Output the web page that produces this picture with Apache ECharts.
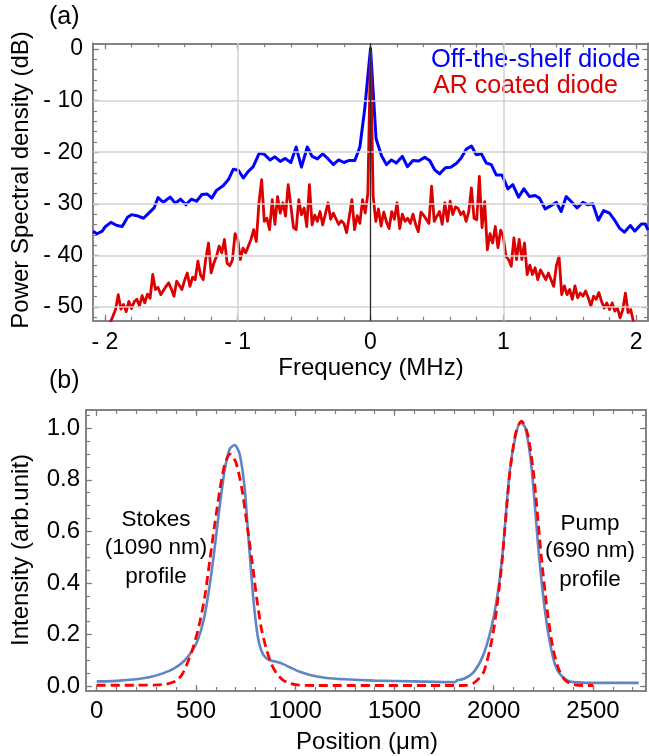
<!DOCTYPE html>
<html>
<head>
<meta charset="utf-8">
<script src="https://cdn.jsdelivr.net/npm/echarts@6/dist/echarts.min.js"></script>
<style>html,body{margin:0;padding:0;background:#fff}#c{width:649px;height:756px}</style>
</head>
<body>
<div id="c"></div>
<script>
// ---------------- DATA ----------------
// (a) Off-the-shelf diode: [frequency MHz, dB]
const offShelf = [[-2.09,-35.3],[-2.06,-35.8],[-2.02,-35.3],[-2.0,-34.5],[-1.955,-33.6],[-1.91,-34.2],[-1.87,-34.4],[-1.83,-32.6],[-1.80,-32.1],[-1.76,-32.3],[-1.71,-32.8],[-1.67,-31.8],[-1.63,-30.8],[-1.60,-28.8],[-1.56,-29.7],[-1.51,-28.7],[-1.47,-29.9],[-1.43,-29.1],[-1.39,-30.2],[-1.35,-29.1],[-1.31,-29.5],[-1.27,-28.2],[-1.23,-28.1],[-1.195,-28.9],[-1.16,-27.4],[-1.11,-26.5],[-1.07,-25.3],[-1.033,-23.3],[-0.995,-23.5],[-0.958,-25.0],[-0.92,-23.7],[-0.883,-22.8],[-0.838,-20.2],[-0.80,-20.4],[-0.757,-21.5],[-0.72,-20.9],[-0.68,-21.8],[-0.644,-21.2],[-0.60,-22.0],[-0.56,-19.0],[-0.52,-22.9],[-0.476,-19.0],[-0.44,-20.8],[-0.40,-21.3],[-0.36,-20.3],[-0.319,-21.3],[-0.28,-22.4],[-0.24,-21.5],[-0.20,-22.0],[-0.16,-21.6],[-0.118,-21.6],[-0.08,-19.0],[-0.043,-11.5],[0,0.1],[0.042,-17.4],[0.083,-20.7],[0.12,-22.4],[0.158,-21.5],[0.195,-22.1],[0.24,-20.8],[0.278,-22.8],[0.32,-21.6],[0.363,-21.7],[0.408,-21.0],[0.446,-21.6],[0.483,-23.4],[0.52,-24.2],[0.564,-23.0],[0.604,-22.9],[0.646,-22.2],[0.684,-21.1],[0.722,-19.4],[0.76,-18.8],[0.797,-20.5],[0.835,-20.3],[0.872,-22.1],[0.91,-22.4],[0.947,-24.4],[0.99,-24.4],[1.035,-27.1],[1.072,-26.3],[1.115,-28.7],[1.155,-27.1],[1.198,-28.6],[1.24,-28.4],[1.273,-28.9],[1.316,-31.0],[1.356,-30.4],[1.40,-29.7],[1.436,-31.5],[1.474,-28.6],[1.51,-29.5],[1.556,-30.8],[1.60,-29.7],[1.636,-30.2],[1.674,-30.0],[1.716,-33.2],[1.756,-31.3],[1.80,-31.8],[1.837,-33.1],[1.875,-34.7],[1.912,-35.5],[1.957,-34.2],[1.99,-35.3],[2.04,-33.9],[2.07,-33.9],[2.09,-35.1]];

// (a) AR coated diode: sampled every 0.02 MHz from -1.96 MHz
const arStart = -1.96, arStep = 0.02;
const arCoated = [-53.0,-51.8,-50.5,-47.6,-50.4,-49.5,-50.9,-48.9,-50.3,-49.0,-48.5,-49.8,-47.8,-49.2,-47.5,-48.3,-43.7,-46.6,-46.2,-47.6,
-46.8,-46.0,-45.3,-46.5,-47.9,-45.0,-45.8,-46.6,-44.8,-43.4,-46.0,-44.2,-44.7,-41.1,-43.8,-44.7,-40.5,-37.6,-43.4,-41.5,
-40.2,-38.2,-39.5,-36.9,-41.5,-42.0,-40.9,-35.8,-36.9,-40.8,-38.6,-39.5,-38.2,-36.9,-35.0,-37.3,-29.8,-25.3,-33.4,-32.8,
-35.0,-29.2,-34.0,-28.6,-31.8,-29.8,-32.4,-26.3,-30.4,-34.6,-35.0,-29.2,-32.1,-30.8,-34.4,-26.3,-34.1,-32.2,-33.4,-31.5,
-34.1,-32.0,-29.8,-33.0,-31.8,-32.9,-34.0,-33.3,-33.8,-35.6,-32.5,-29.2,-35.0,-32.3,-33.8,-29.2,-31.8,-28.0,
-0.5,
-28.5,-33.4,-31.0,-34.3,-31.6,-33.5,-34.8,-31.5,-33.0,-29.8,-34.8,-32.0,-33.4,-32.8,-33.8,-32.0,-34.0,-35.4,-31.6,-32.2,
-33.0,-33.8,-26.6,-33.4,-32.4,-31.5,-34.0,-29.8,-33.4,-29.5,-32.1,-30.6,-30.9,-32.1,-31.5,-33.4,-31.5,-26.9,-32.8,-33.1,
-24.7,-34.6,-29.6,-38.9,-35.8,-37.6,-34.4,-38.5,-35.1,-36.3,-40.2,-40.8,-42.1,-36.6,-40.8,-36.9,-40.8,-37.6,-43.7,-41.9,
-43.7,-42.4,-44.7,-42.8,-43.7,-44.7,-43.4,-44.7,-46.0,-42.0,-40.2,-47.6,-45.9,-47.6,-46.6,-48.5,-45.9,-48.2,-47.3,-47.9,
-46.9,-48.2,-49.8,-47.9,-48.5,-47.2,-48.9,-50.2,-49.2,-50.5,-49.2,-50.8,-50.2,-52.1,-50.5,-47.3,-51.1,-50.5,-52.8];

// (b) measured intensity profile: [position um, intensity]
const measured = [[0,0.018],[100,0.02],[200,0.026],[270,0.035],[330,0.048],[390,0.068],[440,0.097],[480,0.135],[510,0.18],[540,0.26],[565,0.37],[590,0.51],[620,0.70],[645,0.84],[670,0.92],[695,0.935],[720,0.90],[745,0.77],[760,0.62],[775,0.47],[790,0.33],[806,0.22],[820,0.16],[840,0.12],[870,0.10],[900,0.095],[940,0.085],[980,0.07],[1020,0.056],[1080,0.042],[1150,0.032],[1250,0.026],[1400,0.021],[1600,0.018],[1805,0.015],[1815,0.022],[1850,0.028],[1900,0.055],[1950,0.125],[2000,0.27],[2040,0.48],[2080,0.83],[2110,0.97],[2135,1.025],[2160,1.0],[2190,0.85],[2230,0.49],[2260,0.28],[2285,0.16],[2310,0.08],[2335,0.045],[2370,0.022],[2400,0.015],[2500,0.012],[2730,0.012]];
// (b) Gaussian fit: [position um, intensity]
const fitted = [[0,0.003],[200,0.003],[300,0.004],[350,0.007],[400,0.02],[430,0.045],[460,0.095],[490,0.16],[520,0.25],[545,0.35],[570,0.49],[595,0.63],[620,0.76],[645,0.86],[671,0.90],[700,0.87],[730,0.77],[760,0.61],[790,0.44],[806,0.34],[830,0.22],[856,0.14],[880,0.085],[907,0.048],[940,0.022],[975,0.01],[1010,0.004],[1100,0.002],[1850,0.002],[1900,0.012],[1950,0.055],[2000,0.22],[2040,0.47],[2080,0.82],[2110,0.98],[2140,1.028],[2170,0.98],[2200,0.83],[2240,0.5],[2270,0.29],[2300,0.14],[2330,0.06],[2360,0.022],[2400,0.006],[2450,0.002],[2500,0.002]];

// tick labels
const aXLabels = [-2,-1,0,1,2];
const aYLabels = [0,-10,-20,-30,-40,-50];
const bXLabels = [0,500,1000,1500,2000,2500];
const bYLabels = [0,0.2,0.4,0.6,0.8,1.0];
const legendA = ['Off-the-shelf diode','AR coated diode'];

// ---------------- CHART ----------------
const FONT = '"Liberation Sans", Arial, Helvetica, sans-serif';
const FRAME = '#7d7d7d';
const r = v => Math.round(v*1000)/1000;
function range(a,b,s){const o=[];for(let v=a;v<=b+1e-9;v+=s)o.push(r(v));return o;}

const arData = arCoated.map((y,i)=>[r(arStart+i*arStep), y]);

const A = {xmin:-2.09,xmax:2.09,ymin:-52.65,ymax:1.1};
const B = {xmin:-54,xmax:2767,ymin:-0.0194,ymax:1.071};

function ax(grid,pos,min,max,ticks,len,label){
  const o = {type:'value',gridIndex:grid,position:pos,min,max,
    axisLine:{show:true,onZero:false,lineStyle:{color:FRAME,width:1.5}},
    axisTick:{show:true,inside:true,length:len,customValues:ticks,lineStyle:{color:FRAME,width:1.2}},
    axisLabel:{show:false},splitLine:{show:false},splitArea:{show:false}};
  if(label){o.axisLabel=Object.assign({show:true,color:'#000',fontFamily:FONT},label);}
  return o;
}
const negFmt = v => v<0 ? '- '+Math.abs(v) : String(v);

const xAxis = [
  ax(0,'bottom',A.xmin,A.xmax,aXLabels,6,{customValues:aXLabels,formatter:negFmt,fontSize:23,margin:10}),
  ax(0,'bottom',A.xmin,A.xmax,range(-2,2,0.2),4),
  ax(0,'top',A.xmin,A.xmax,aXLabels,6),
  ax(0,'top',A.xmin,A.xmax,range(-2,2,0.2),4),
  ax(1,'bottom',B.xmin,B.xmax,bXLabels,6,{customValues:bXLabels,formatter:v=>String(v),fontSize:24,margin:8}),
  ax(1,'bottom',B.xmin,B.xmax,range(0,2700,100),4),
  ax(1,'top',B.xmin,B.xmax,bXLabels,6),
  ax(1,'top',B.xmin,B.xmax,range(0,2700,100),4)
];
const yAxis = [
  ax(0,'left',A.ymin,A.ymax,aYLabels,6,{customValues:aYLabels,formatter:negFmt,fontSize:23,margin:10}),
  ax(0,'left',A.ymin,A.ymax,range(-52,0,2),4),
  ax(0,'right',A.ymin,A.ymax,aYLabels,6),
  ax(0,'right',A.ymin,A.ymax,range(-52,0,2),4),
  ax(1,'left',B.ymin,B.ymax,bYLabels,6,{customValues:bYLabels,formatter:v=>v.toFixed(1),fontSize:24,margin:6}),
  ax(1,'left',B.ymin,B.ymax,range(0,1.05,0.05),4),
  ax(1,'right',B.ymin,B.ymax,bYLabels,6),
  ax(1,'right',B.ymin,B.ymax,range(0,1.05,0.05),4)
];

const gridLight = {color:'#d2d2d2',width:1.5,type:'solid'};
const option = {
  animation:false,
  grid:[
    {left:93,right:1,top:43.3,bottom:756-320.7,containLabel:false},
    {left:86,right:3,top:410,bottom:65,containLabel:false}
  ],
  xAxis, yAxis,
  series:[
    {type:'line',xAxisIndex:0,yAxisIndex:0,data:[],z:1,silent:true,
     markLine:{silent:true,symbol:['none','none'],label:{show:false},animation:false,lineStyle:gridLight,
       data:[{xAxis:-1},{xAxis:1},{yAxis:-10},{yAxis:-20},{yAxis:-30},{yAxis:-40},{yAxis:-50},
             {xAxis:0,lineStyle:{color:'#2a2a2a',width:1.3,type:'solid'}}]}},
    {type:'line',name:'off',xAxisIndex:0,yAxisIndex:0,data:offShelf,showSymbol:false,z:3,
     lineStyle:{color:'#0000ff',width:3,join:'round'}},
    {type:'line',name:'ar',xAxisIndex:0,yAxisIndex:0,data:arData,showSymbol:false,z:4,
     lineStyle:{color:'#dd0000',width:2.8,join:'round'}},
    {type:'line',name:'meas',xAxisIndex:4,yAxisIndex:4,data:measured,showSymbol:false,z:3,smooth:0.25,
     lineStyle:{color:'#5f86c4',width:2.6}},
    {type:'line',name:'fit',xAxisIndex:4,yAxisIndex:4,data:fitted,showSymbol:false,z:4,smooth:0.25,
     lineStyle:{color:'#ff0000',width:2.8,type:[9,5]}}
  ],
  graphic:[
    {type:'text',left:49,top:5,style:{text:'(a)',font:'25px '+FONT,fill:'#000'}},
    {type:'text',left:49,top:369,style:{text:'(b)',font:'25px '+FONT,fill:'#000'}},
    {type:'text',left:431,top:47,style:{text:legendA[0],font:'25.5px '+FONT,fill:'#0000ff'}},
    {type:'text',left:433,top:74,style:{text:legendA[1],font:'25px '+FONT,fill:'#dd0000'}},
    {type:'text',x:371,y:368,style:{text:'Frequency (MHz)',font:'24px '+FONT,fill:'#000',align:'center',verticalAlign:'middle'}},
    {type:'text',x:367,y:742,style:{text:'Position (μm)',font:'24px '+FONT,fill:'#000',align:'center',verticalAlign:'middle'}},
    {type:'text',x:21,y:180,rotation:Math.PI/2,style:{text:'Power Spectral density (dB)',font:'24px '+FONT,fill:'#000',align:'center',verticalAlign:'middle'}},
    {type:'text',x:21,y:550,rotation:Math.PI/2,style:{text:'Intensity (arb.unit)',font:'24px '+FONT,fill:'#000',align:'center',verticalAlign:'middle'}},
    {type:'text',x:156,y:520,style:{text:'Stokes',font:'22.5px '+FONT,fill:'#000',align:'center',verticalAlign:'middle'}},
    {type:'text',x:156,y:548,style:{text:'(1090 nm)',font:'22.5px '+FONT,fill:'#000',align:'center',verticalAlign:'middle'}},
    {type:'text',x:156,y:577,style:{text:'profile',font:'22.5px '+FONT,fill:'#000',align:'center',verticalAlign:'middle'}},
    {type:'text',x:590,y:524,style:{text:'Pump',font:'22.5px '+FONT,fill:'#000',align:'center',verticalAlign:'middle'}},
    {type:'text',x:590,y:551,style:{text:'(690 nm)',font:'22.5px '+FONT,fill:'#000',align:'center',verticalAlign:'middle'}},
    {type:'text',x:590,y:580,style:{text:'profile',font:'22.5px '+FONT,fill:'#000',align:'center',verticalAlign:'middle'}}
  ]
};
const chart = echarts.init(document.getElementById('c'),null,{renderer:'canvas'});
chart.setOption(option);
</script>
</body>
</html>
